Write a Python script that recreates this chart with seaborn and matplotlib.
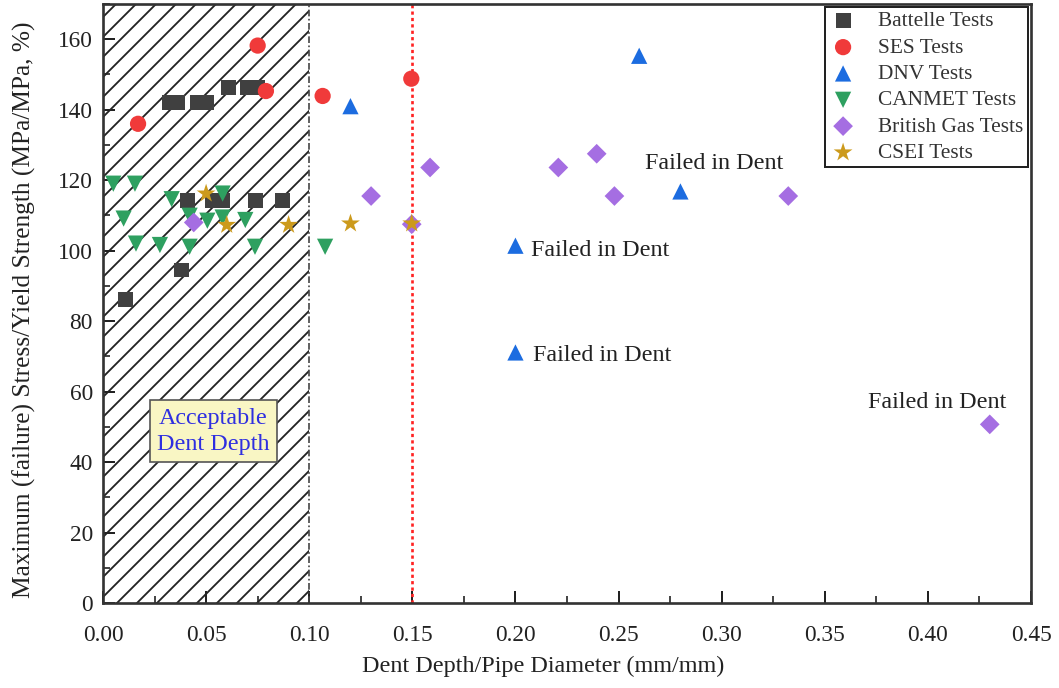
import numpy as np
import pandas as pd
import matplotlib
matplotlib.use("Agg")
import matplotlib.pyplot as plt
import seaborn as sns
from matplotlib.ticker import MultipleLocator, FormatStrFormatter

sns.set_theme(style="white")
plt.rcParams['font.family'] = ['Liberation Serif', 'DejaVu Serif']
plt.rcParams['hatch.linewidth'] = 1.1

# ---- data ----
battelle_x = [0.011, 0.038, 0.032, 0.036, 0.046, 0.050, 0.061, 0.070, 0.075, 0.041, 0.053, 0.058, 0.074, 0.087]
battelle_y = [86.1, 94.5, 142.0, 142.0, 142.0, 142.0, 146.4, 146.4, 146.4, 114.3, 114.3, 114.3, 114.3, 114.3]

ses_x = [0.017, 0.075, 0.079, 0.1065, 0.1495]
ses_y = [136.0, 158.2, 145.3, 143.9, 148.8]

dnv_x = [0.120, 0.260, 0.280, 0.200, 0.200]
dnv_y = [141.0, 155.3, 116.8, 101.4, 71.1]

canmet_x = [0.005, 0.0155, 0.0333, 0.058, 0.010, 0.016, 0.0276, 0.042, 0.0737, 0.042, 0.0506, 0.058, 0.069, 0.1077]
canmet_y = [119.0, 119.0, 114.6, 116.2, 109.1, 102.0, 101.6, 101.1, 101.1, 109.9, 108.5, 109.4, 108.7, 101.1]

bg_x = [0.044, 0.130, 0.1586, 0.1497, 0.2208, 0.2394, 0.248, 0.3323, 0.430]
bg_y = [108.0, 115.5, 123.6, 107.5, 123.6, 127.5, 115.5, 115.5, 50.7]

csei_x = [0.050, 0.060, 0.090, 0.120, 0.1497]
csei_y = [116.2, 107.3, 107.3, 107.7, 107.7]

series_names = ["Battelle Tests", "SES Tests", "DNV Tests", "CANMET Tests", "British Gas Tests", "CSEI Tests"]
series_x = [battelle_x, ses_x, dnv_x, canmet_x, bg_x, csei_x]
series_y = [battelle_y, ses_y, dnv_y, canmet_y, bg_y, csei_y]
series_colors = ["#404040", "#f03a3a", "#1c6ce0", "#2ea060", "#a56ee2", "#cc9a1c"]
series_markers = ["s", "o", "^", "v", "D", "*"]
series_sizes = [80, 95, 95, 95, 70, 140]

annot_text = ["Failed in Dent"] * 4
annot_x = [0.2628, 0.2076, 0.2085, 0.371]
annot_y = [124.6, 100.0, 70.2, 56.9]

x_ticks = [0.00, 0.05, 0.10, 0.15, 0.20, 0.25, 0.30, 0.35, 0.40, 0.45]
y_ticks = [0, 20, 40, 60, 80, 100, 120, 140, 160]

# ---- figure ----
dpi = 120
fig = plt.figure(figsize=(1059 / dpi, 688 / dpi), dpi=dpi)
ax = fig.add_axes([103 / 1059, 1 - 603 / 688, (1031 - 103) / 1059, (603 - 4) / 688])

# hatched acceptable region
ax.axvspan(0, 0.1, facecolor="none", edgecolor="#222222", hatch="//", linewidth=0, zorder=0)
ax.axvline(0.1, color="#444444", linestyle=(0, (4, 1.5, 1, 1.5)), linewidth=1.0, zorder=1)
ax.axvline(0.15, color="#ff2222", linestyle=(0, (1.2, 1.2)), linewidth=1.6, zorder=1)

for name, xs, ys, c, m, s in zip(series_names, series_x, series_y, series_colors, series_markers, series_sizes):
    df = pd.DataFrame({"x": xs, "y": ys})
    sns.scatterplot(data=df, x="x", y="y", ax=ax, color=c, marker=m, s=s,
                    linewidth=0, edgecolor="none", label=name, zorder=3)

for t, xx, yy in zip(annot_text, annot_x, annot_y):
    ax.text(xx, yy, t, fontsize=14.5, color="#222222", ha="left", va="center", zorder=4)

ax.text(0.0534, 48.7, "Acceptable\nDent Depth", fontsize=14.5, color="#2f2fe0",
        ha="center", va="center", linespacing=1.35, zorder=4,
        bbox=dict(boxstyle="square,pad=0.3", facecolor="#f9f6c4", edgecolor="#555555", linewidth=1.0))

ax.set_xlim(0, 0.45)
ax.set_ylim(0, 170)
ax.set_xticks(x_ticks)
ax.set_yticks(y_ticks)
ax.xaxis.set_major_formatter(FormatStrFormatter("%.2f"))
ax.xaxis.set_minor_locator(MultipleLocator(0.025))
ax.yaxis.set_minor_locator(MultipleLocator(10))
ax.tick_params(axis="both", which="major", direction="in", length=7, width=1.2,
               labelsize=14, colors="#222222", bottom=True, left=True, top=False, right=False)
ax.tick_params(axis="x", which="major", pad=13)
ax.tick_params(axis="y", which="major", pad=6)
ax.tick_params(axis="both", which="minor", direction="in", length=4, width=1.0,
               bottom=True, left=True, top=False, right=False, colors="#222222")

ax.set_xlabel("Dent Depth/Pipe Diameter (mm/mm)", fontsize=14.5, color="#222222")
ax.set_ylabel("Maximum (failure) Stress/Yield Strength (MPa/MPa, %)", fontsize=15.2, color="#222222")
ax.xaxis.set_label_coords(0.474, -0.088)
ax.yaxis.set_label_coords(-0.0725, 0.49)

for sp in ax.spines.values():
    sp.set_color("#333333")
    sp.set_linewidth(1.6)
    sp.set_visible(True)

leg = ax.legend(loc="upper right", fontsize=12.8, frameon=True, fancybox=False,
                edgecolor="#222222", framealpha=1, borderaxespad=0.15,
                handletextpad=1.0, labelspacing=0.3, borderpad=0.2, handlelength=1.3)
leg.get_frame().set_linewidth(1.2)
for txt in leg.get_texts():
    txt.set_color("#333333")

fig.savefig("out.png", dpi=dpi)
